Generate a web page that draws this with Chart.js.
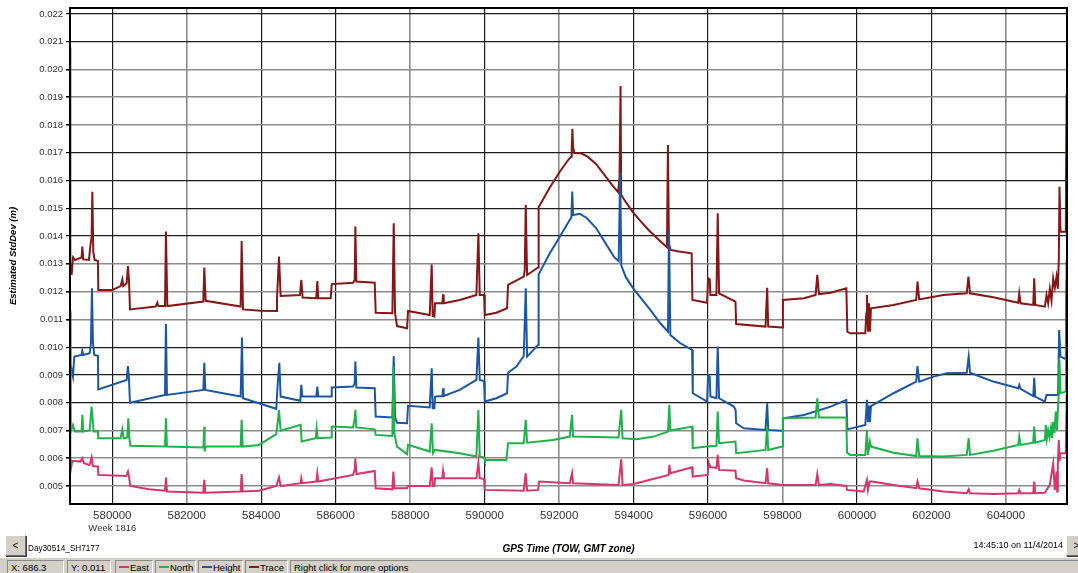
<!DOCTYPE html>
<html>
<head>
<meta charset="utf-8">
<title>Estimated StdDev</title>
<script src="https://cdn.jsdelivr.net/npm/chart.js@4/dist/chart.umd.min.js"></script>
<style>
  html, body { margin: 0; padding: 0; background: #fff; }
  body { width: 1078px; height: 573px; position: relative; overflow: hidden;
         font-family: "Liberation Sans", Arial, sans-serif; color: #000; }
  #plot { position: absolute; left: 0; top: 0; width: 1078px; height: 560px; }
  .btn { position: absolute; width: 19px; height: 19px; background: #d4d0c8;
         border: 1px solid; border-color: #fff #6f6f6f #6f6f6f #fff;
         box-shadow: 1px 1px 0 #3c3c3c; font-size: 10px; line-height: 19px;
         text-align: center; color: #000; }
  #file { position: absolute; left: 28px; top: 544px; font-size: 8.2px; }
  #stamp { position: absolute; right: 15px; top: 540px; font-size: 9px; }
  #status { position: absolute; left: 0; top: 557px; width: 1078px; height: 16px;
            background: #d4d0c8; border-top: 1px solid #fff; }
  .cell { position: absolute; top: 2px; height: 16px; box-sizing: border-box;
          border: 1px solid; border-color: #8a8a8a #fff #fff #8a8a8a;
          font-size: 9.5px; line-height: 14px; padding-left: 3px; white-space: nowrap; }
  .swatch { display: inline-block; width: 10px; height: 2px; vertical-align: middle;
            margin-right: 1px; position: relative; top: -1px; }
</style>
</head>
<body>
<div id="plot"><canvas id="chart"></canvas></div>
<div class="btn" style="left:5px; top:535px;">&lt;</div>
<div id="file"></div>
<div id="stamp"></div>
<div class="btn" style="left:1066px; top:535px;">&gt;</div>
<div id="status"></div>

<script>
// ---- chart values (GPS time of week in seconds, std dev in metres) ----
const seriesNames = ['East', 'North', 'Height', 'Trace'];

const east = [
  [578866, 0.0088], [578872, 0.00606], [578899, 0.00570], [578926, 0.00591], [579149, 0.00588],
  [579194, 0.00600], [579239, 0.00582], [579391, 0.00576], [579445, 0.00603], [579481, 0.00572],
  [579615, 0.00570], [579624, 0.00540], [580376, 0.00536], [580421, 0.00552], [580448, 0.00534],
  [580484, 0.00500], [580985, 0.00488], [581415, 0.00483], [581441, 0.00530], [581468, 0.00480],
  [582444, 0.00476], [582471, 0.00522], [582498, 0.00476], [583447, 0.00480], [583474, 0.00543],
  [583501, 0.00480], [583939, 0.00483], [584405, 0.00500], [584477, 0.00531], [584521, 0.00500],
  [585058, 0.00510], [585076, 0.00528], [585103, 0.00510], [585479, 0.00516], [585506, 0.00546],
  [585532, 0.00516], [586466, 0.00540], [586510, 0.00558], [586528, 0.00600], [586555, 0.00543],
  [587048, 0.00554], [587074, 0.00492], [587522, 0.00488], [587549, 0.00552], [587576, 0.00492],
  [587916, 0.00492], [587943, 0.00500], [588525, 0.00500], [588578, 0.00567], [588605, 0.00500],
  [588650, 0.00500], [588668, 0.00528], [588865, 0.00528], [588883, 0.00552], [588901, 0.00528],
  [589778, 0.00528], [589832, 0.00584], [589868, 0.00528], [589984, 0.00525], [590002, 0.00486],
  [591050, 0.00483], [591104, 0.00546], [591140, 0.00483], [591435, 0.00486], [591462, 0.00516],
  [592286, 0.00510], [592348, 0.00546], [592375, 0.00510], [593596, 0.00504], [593668, 0.00596],
  [593704, 0.00504], [594000, 0.00507], [594942, 0.00540], [594960, 0.00576], [594987, 0.00546],
  [595570, 0.00567], [595588, 0.00534], [595991, 0.00540], [596018, 0.00584], [596063, 0.00568],
  [596225, 0.00565], [596260, 0.00612], [596296, 0.00558], [596736, 0.00555], [596754, 0.00528],
  [596960, 0.00520], [597543, 0.00510], [597588, 0.00564], [597615, 0.00510], [598010, 0.00504],
  [598889, 0.00504], [598934, 0.00543], [598978, 0.00504], [599292, 0.00507], [599714, 0.00500],
  [599732, 0.00486], [600179, 0.00480], [600268, 0.00522], [600295, 0.00486], [600339, 0.00516],
  [600400, 0.00516], [600982, 0.00504], [601590, 0.00492], [601625, 0.00516], [601670, 0.00492],
  [602322, 0.00480], [602947, 0.00474], [603000, 0.00488], [603036, 0.00474], [603661, 0.00471],
  [604331, 0.00474], [604358, 0.00486], [604394, 0.00474], [604733, 0.00474], [604760, 0.00516],
  [604787, 0.00474], [605045, 0.00476], [605179, 0.00504], [605269, 0.00582], [605313, 0.00486],
  [605358, 0.00552], [605376, 0.00480], [605394, 0.00580], [605420, 0.00666], [605438, 0.00590],
  [605465, 0.00618], [605608, 0.00618], [605622, 0.00760], [605628, 0.00830]
];

const north = [
  [578866, 0.0113], [578872, 0.00750], [578890, 0.00696], [578944, 0.00720], [578997, 0.00696],
  [579176, 0.00696], [579194, 0.00756], [579221, 0.00696], [579391, 0.00700], [579445, 0.00786],
  [579499, 0.00696], [579615, 0.00696], [579624, 0.00672], [580224, 0.00672], [580269, 0.00704],
  [580305, 0.00672], [580403, 0.00675], [580430, 0.00744], [580457, 0.00675], [580484, 0.00645],
  [581415, 0.00642], [581441, 0.00744], [581468, 0.00642], [582444, 0.00639], [582471, 0.00714],
  [582480, 0.00624], [582507, 0.00642], [583447, 0.00642], [583474, 0.00738], [583501, 0.00642],
  [583939, 0.00648], [584405, 0.00687], [584450, 0.00738], [584477, 0.00774], [584521, 0.00699],
  [585058, 0.00720], [585085, 0.00660], [585461, 0.00672], [585488, 0.00708], [585515, 0.00672],
  [585875, 0.00675], [585893, 0.00714], [586466, 0.00711], [586510, 0.00744], [586528, 0.00774],
  [586555, 0.00711], [587048, 0.00704], [587074, 0.00684], [587522, 0.00680], [587549, 0.00930],
  [587576, 0.00689], [587647, 0.00642], [587916, 0.00615], [587943, 0.00648], [588525, 0.00624],
  [588578, 0.00726], [588614, 0.00618], [588668, 0.00630], [589331, 0.00618], [589778, 0.00606],
  [589832, 0.00774], [589868, 0.00606], [589984, 0.00603], [590002, 0.00594], [590584, 0.00594],
  [590629, 0.00654], [591050, 0.00654], [591104, 0.00738], [591140, 0.00656], [591838, 0.00666],
  [592286, 0.00678], [592348, 0.00756], [592375, 0.00678], [593596, 0.00675], [593668, 0.00774],
  [593704, 0.00672], [594090, 0.00668], [594538, 0.00678], [594924, 0.00696], [594960, 0.00792],
  [594987, 0.00700], [595570, 0.00714], [595588, 0.00636], [595974, 0.00642], [596225, 0.00645],
  [596260, 0.00768], [596296, 0.00654], [596736, 0.00660], [596754, 0.00618], [597543, 0.00630],
  [597588, 0.00714], [597615, 0.00630], [597992, 0.00642], [598010, 0.00744], [598889, 0.00747],
  [598934, 0.00816], [598978, 0.00747], [599714, 0.00747], [599732, 0.00620], [599821, 0.00612],
  [600223, 0.00612], [600268, 0.00702], [600295, 0.00612], [600348, 0.00660], [600375, 0.00642],
  [600982, 0.00620], [601590, 0.00608], [601625, 0.00672], [601670, 0.00608], [602322, 0.00606],
  [602947, 0.00612], [603000, 0.00672], [603036, 0.00612], [603661, 0.00627], [604331, 0.00648],
  [604358, 0.00678], [604394, 0.00648], [604733, 0.00656], [604760, 0.00714], [604787, 0.00656],
  [605045, 0.00666], [605072, 0.00720], [605100, 0.00670], [605134, 0.00700], [605170, 0.00675],
  [605210, 0.00710], [605240, 0.00672], [605269, 0.00730], [605300, 0.00690], [605340, 0.00768],
  [605370, 0.00700], [605394, 0.00770], [605420, 0.00830], [605438, 0.00954], [605465, 0.00834],
  [605608, 0.00840], [605622, 0.01040], [605628, 0.01130]
];

const height = [
  [578866, 0.0100], [578872, 0.00894], [578908, 0.00918], [578944, 0.00894], [578979, 0.00966],
  [579176, 0.00972], [579194, 0.00987], [579221, 0.00972], [579391, 0.00978], [579427, 0.01014],
  [579454, 0.01212], [579481, 0.01014], [579517, 0.00972], [579615, 0.00969], [579624, 0.00848],
  [580385, 0.00882], [580421, 0.00932], [580448, 0.00884], [580475, 0.00800], [581415, 0.00828],
  [581441, 0.01083], [581468, 0.00828], [582444, 0.00846], [582471, 0.00944], [582498, 0.00846],
  [583447, 0.00822], [583483, 0.01035], [583510, 0.00816], [584405, 0.00778], [584432, 0.00846],
  [584486, 0.00944], [584521, 0.00822], [585049, 0.00807], [585076, 0.00864], [585103, 0.00822],
  [585479, 0.00822], [585506, 0.00858], [585532, 0.00822], [585875, 0.00822], [585893, 0.00855],
  [586466, 0.00858], [586510, 0.00870], [586528, 0.00948], [586555, 0.00855], [587048, 0.00852],
  [587074, 0.00750], [587522, 0.00747], [587558, 0.00968], [587594, 0.00747], [587647, 0.00728],
  [587916, 0.00726], [587943, 0.00789], [588525, 0.00783], [588578, 0.00924], [588605, 0.00780],
  [588650, 0.00780], [588668, 0.00822], [588865, 0.00824], [588883, 0.00852], [588901, 0.00824],
  [589331, 0.00846], [589778, 0.00882], [589832, 0.01035], [589868, 0.00882], [589984, 0.00878],
  [590002, 0.00804], [590315, 0.00816], [590602, 0.00834], [590629, 0.00908], [590853, 0.00930],
  [591050, 0.00968], [591104, 0.01212], [591140, 0.00966], [591435, 0.01008], [591450, 0.01262],
  [591742, 0.01336], [592009, 0.01396], [592277, 0.01456], [592330, 0.01468], [592352, 0.01560],
  [592375, 0.01476], [592560, 0.01480], [592732, 0.01466], [592990, 0.01430], [593257, 0.01372],
  [593480, 0.01324], [593600, 0.01310], [593640, 0.01627], [593670, 0.01294], [593792, 0.01252],
  [594000, 0.01210], [594449, 0.01134], [594718, 0.01086], [594924, 0.01056], [594950, 0.01420],
  [594987, 0.01044], [595256, 0.01014], [595570, 0.00990], [595590, 0.00834], [595974, 0.00804],
  [596000, 0.00900], [596045, 0.00894], [596063, 0.00822], [596225, 0.00816], [596260, 0.01002],
  [596296, 0.00816], [596691, 0.00786], [596740, 0.00774], [596754, 0.00726], [596960, 0.00708],
  [597543, 0.00702], [597588, 0.00798], [597615, 0.00702], [597992, 0.00699], [598010, 0.00744],
  [598575, 0.00756], [599292, 0.00786], [599714, 0.00810], [599741, 0.00704], [600223, 0.00720],
  [600268, 0.00810], [600295, 0.00730], [600321, 0.00790], [600348, 0.00730], [600375, 0.00788],
  [600982, 0.00834], [601590, 0.00876], [601625, 0.00932], [601670, 0.00876], [602054, 0.00894],
  [602411, 0.00906], [602947, 0.00908], [603000, 0.00966], [603036, 0.00908], [603661, 0.00876],
  [604331, 0.00852], [604358, 0.00864], [604394, 0.00850], [604733, 0.00824], [604760, 0.00890],
  [604787, 0.00822], [605045, 0.00804], [605090, 0.00828], [605400, 0.00828], [605429, 0.01062],
  [605465, 0.00966], [605608, 0.00957], [605622, 0.01240], [605628, 0.01310]
];

const trace = [
  [578866, 0.0208], [578872, 0.01302], [578908, 0.01260], [578944, 0.01323], [578997, 0.01314],
  [579176, 0.01323], [579194, 0.01362], [579221, 0.01316], [579373, 0.01314], [579409, 0.01362],
  [579445, 0.01398], [579463, 0.01560], [579490, 0.01344], [579525, 0.01314], [579615, 0.01310],
  [579624, 0.01206], [580000, 0.01206], [580224, 0.01220], [580269, 0.01244], [580295, 0.01220],
  [580385, 0.01230], [580421, 0.01292], [580448, 0.01242], [580475, 0.01136], [581164, 0.01146],
  [581209, 0.01160], [581236, 0.01148], [581415, 0.01148], [581441, 0.01416], [581477, 0.01148],
  [582444, 0.01164], [582471, 0.01287], [582507, 0.01167], [583447, 0.01146], [583474, 0.01382],
  [583510, 0.01136], [583984, 0.01131], [584405, 0.01130], [584423, 0.01176], [584477, 0.01326],
  [584521, 0.01184], [585040, 0.01188], [585076, 0.01242], [585112, 0.01179], [585479, 0.01176],
  [585506, 0.01238], [585532, 0.01176], [585866, 0.01176], [585893, 0.01227], [586466, 0.01232],
  [586510, 0.01242], [586528, 0.01434], [586555, 0.01236], [587048, 0.01232], [587074, 0.01124],
  [587522, 0.01122], [587558, 0.01446], [587594, 0.01122], [587647, 0.01076], [587916, 0.01068],
  [587943, 0.01130], [588525, 0.01116], [588578, 0.01298], [588605, 0.01112], [588650, 0.01110],
  [588668, 0.01158], [588865, 0.01158], [588883, 0.01190], [588901, 0.01158], [589331, 0.01170],
  [589778, 0.01188], [589832, 0.01410], [589868, 0.01188], [589984, 0.01188], [590002, 0.01116],
  [590315, 0.01124], [590602, 0.01140], [590629, 0.01224], [591050, 0.01254], [591077, 0.01278],
  [591104, 0.01512], [591140, 0.01260], [591435, 0.01287], [591450, 0.01504], [591742, 0.01573],
  [592009, 0.01630], [592232, 0.01672], [592321, 0.01686], [592339, 0.01720], [592357, 0.01786],
  [592375, 0.01720], [592410, 0.01699], [592589, 0.01698], [592767, 0.01686], [592990, 0.01660],
  [593212, 0.01621], [593435, 0.01582], [593587, 0.01558], [593622, 0.01612], [593650, 0.01940],
  [593667, 0.01549], [593792, 0.01522], [593970, 0.01488], [594193, 0.01453], [594415, 0.01420],
  [594683, 0.01386], [594896, 0.01360], [594923, 0.01728], [594950, 0.01372], [594994, 0.01350],
  [595173, 0.01345], [595560, 0.01338], [595580, 0.01170], [595974, 0.01160], [596000, 0.01248],
  [596045, 0.01244], [596063, 0.01188], [596225, 0.01188], [596260, 0.01482], [596296, 0.01194],
  [596736, 0.01164], [596754, 0.01083], [597543, 0.01074], [597588, 0.01214], [597615, 0.01074],
  [597992, 0.01071], [598010, 0.01170], [598575, 0.01176], [598889, 0.01188], [598934, 0.01260],
  [598978, 0.01191], [599292, 0.01196], [599714, 0.01212], [599741, 0.01056], [599821, 0.01050],
  [600223, 0.01050], [600250, 0.01122], [600268, 0.01188], [600295, 0.01056], [600321, 0.01158],
  [600348, 0.01056], [600375, 0.01140], [600982, 0.01152], [601590, 0.01170], [601625, 0.01236],
  [601670, 0.01172], [602322, 0.01188], [602947, 0.01194], [602992, 0.01254], [603036, 0.01194],
  [603661, 0.01180], [604331, 0.01160], [604358, 0.01194], [604394, 0.01158], [604733, 0.01152],
  [604760, 0.01248], [604787, 0.01152], [605045, 0.01146], [605090, 0.01188], [605134, 0.01158],
  [605179, 0.01210], [605224, 0.01168], [605269, 0.01248], [605313, 0.01214], [605358, 0.01254],
  [605394, 0.01210], [605420, 0.01314], [605438, 0.01578], [605465, 0.01416], [605608, 0.01416],
  [605622, 0.01800], [605628, 0.01910]
];

const xTicks = [580000, 582000, 584000, 586000, 588000, 590000, 592000,
                594000, 596000, 598000, 600000, 602000, 604000];
const yTicks = [0.005, 0.006, 0.007, 0.008, 0.009, 0.010, 0.011, 0.012, 0.013,
                0.014, 0.015, 0.016, 0.017, 0.018, 0.019, 0.020, 0.021, 0.022];
const xRange = [578864, 605640];
const yRange = [0.004352, 0.022213];

const weekLabel = 'Week 1816';
const xTitle = 'GPS Time (TOW, GMT zone)';
const yTitle = 'Estimated StdDev (m)';
const fileName = 'Day30514_SH7177';
const stampText = '14:45:10 on 11/4/2014';
const cursorX = 'X: 686.3';
const cursorY = 'Y: 0.011';
const hintText = 'Right click for more options';

// ---- styling ----
const FONT = '"Liberation Sans", Arial, sans-serif';
const lineColors = ['#d6366b', '#1fb24a', '#1b57a5', '#851717'];
// grid lines alternate between crisp black and soft grey strokes
const xGridTone = 'kgkkgkgkkgkkg';
const yGridTone = 'gggkkkgggkkkkgggkk';
const toneColor = t => (t === 'k' ? '#1c1c1c' : '#8c8c8c');
const toneWidth = t => (t === 'k' ? 1.2 : 1.6);

const seriesData = [east, north, height, trace];

const datasets = seriesNames.map((name, i) => ({
  label: name,
  data: seriesData[i].map(([x, y]) => ({ x, y })),
  borderColor: lineColors[i],
  backgroundColor: lineColors[i],
  borderWidth: 2,
  pointRadius: 0,
  pointHoverRadius: 0,
  tension: 0,
  fill: false
}));

// outer frame of the plotting area
const frame = {
  id: 'frame',
  afterDatasetsDraw(chart) {
    const { ctx, chartArea: a } = chart;
    ctx.save();
    ctx.strokeStyle = '#000';
    ctx.lineWidth = 2;
    ctx.strokeRect(a.left, a.top, a.right - a.left, a.bottom - a.top);
    ctx.restore();
  }
};

// week number written under the first time tick
const weekNote = {
  id: 'weekNote',
  afterDraw(chart) {
    const { ctx, scales } = chart;
    const px = scales.x.getPixelForValue(xTicks[0]);
    ctx.save();
    ctx.font = '9.5px ' + FONT;
    ctx.fillStyle = '#333';
    ctx.textAlign = 'center';
    ctx.textBaseline = 'middle';
    ctx.fillText(weekLabel, px, 528);
    ctx.restore();
  }
};

new Chart(document.getElementById('chart'), {
  type: 'line',
  data: { datasets },
  plugins: [frame, weekNote],
  options: {
    responsive: true,
    maintainAspectRatio: false,
    animation: false,
    parsing: false,
    normalized: true,
    layout: { padding: { top: 8, right: 11, left: 0, bottom: 0 } },
    plugins: { legend: { display: false }, tooltip: { enabled: false } },
    scales: {
      x: {
        type: 'linear',
        min: xRange[0],
        max: xRange[1],
        afterBuildTicks: s => { s.ticks = xTicks.map(v => ({ value: v })); },
        afterFit: s => { s.height = 56; s.paddingLeft = 0; s.paddingRight = 0; },
        ticks: {
          autoSkip: false, maxRotation: 0, padding: 5, color: '#333',
          font: { family: FONT, size: 11.5 },
          callback: v => String(v)
        },
        grid: {
          drawTicks: false,
          color: c => toneColor(xGridTone[c.index]),
          lineWidth: c => toneWidth(xGridTone[c.index])
        },
        border: { display: true, color: '#000', width: 2 },
        title: {
          display: true, text: xTitle, color: '#000',
          font: { family: FONT, size: 10, weight: 'bold', style: 'italic' },
          padding: { top: 0, bottom: 5 }
        }
      },
      y: {
        type: 'linear',
        min: yRange[0],
        max: yRange[1],
        afterBuildTicks: s => { s.ticks = yTicks.map(v => ({ value: v })); },
        afterFit: s => { s.width = 70; s.paddingTop = 0; s.paddingBottom = 0; },
        ticks: {
          padding: 3, color: '#333',
          font: { family: FONT, size: 9.5 },
          callback: v => v.toFixed(3)
        },
        grid: {
          tickLength: 4,
          tickColor: '#000',
          color: c => toneColor(yGridTone[c.index]),
          lineWidth: c => toneWidth(yGridTone[c.index])
        },
        border: { display: true, color: '#000', width: 2 },
        title: {
          display: true, text: yTitle, color: '#000',
          font: { family: FONT, size: 9.5, weight: 'bold', style: 'italic' },
          padding: { top: 8, bottom: 0 }
        }
      }
    }
  }
});

// ---- window furniture around the plot ----
document.getElementById('file').textContent = fileName;
document.getElementById('stamp').textContent = stampText;

const cells = [
  { left: 7, width: 57, html: cursorX },
  { left: 67, width: 44, html: cursorY }
];
const legendSlots = [[115, 38], [155, 41], [198, 45], [245, 43]];
seriesNames.forEach((name, i) => {
  cells.push({
    left: legendSlots[i][0], width: legendSlots[i][1],
    html: '<span class="swatch" style="background:' + lineColors[i] + '"></span>' + name
  });
});
cells.push({ left: 290, width: 800, html: hintText });

const bar = document.getElementById('status');
cells.forEach(c => {
  const d = document.createElement('div');
  d.className = 'cell';
  d.style.left = c.left + 'px';
  d.style.width = c.width + 'px';
  d.innerHTML = c.html;
  bar.appendChild(d);
});
</script>
</body>
</html>
